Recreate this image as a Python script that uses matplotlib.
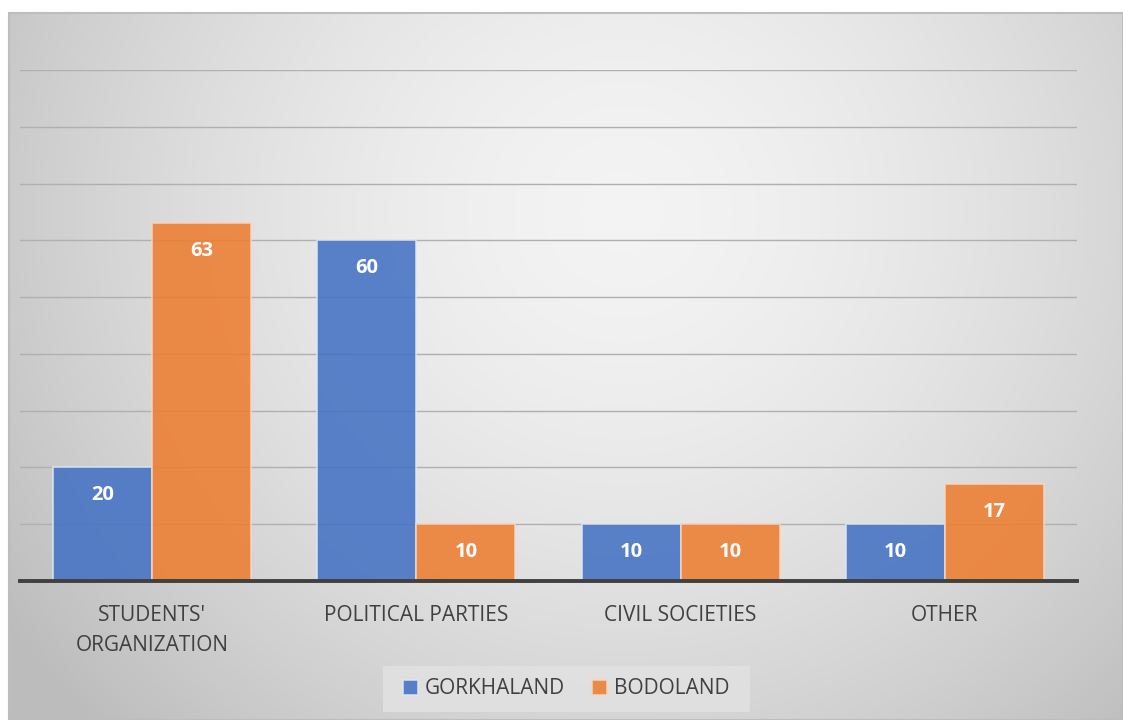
import numpy as np
import matplotlib
matplotlib.use("Agg")
import matplotlib.pyplot as plt
from matplotlib.patches import Rectangle

plt.rcParams['font.family'] = ['Open Sans', 'DejaVu Sans']

categories = ["STUDENTS'\nORGANIZATION", "POLITICAL PARTIES", "CIVIL SOCIETIES", "OTHER"]
series_names = ["GORKHALAND", "BODOLAND"]
gorkhaland = [20, 60, 10, 10]
bodoland = [63, 10, 10, 17]
y_max = 90
y_step = 10

blue = "#4472C4"
orange = "#ED7D31"
text_gray = "#404040"

W, H, DPI = 1123, 720, 100
fig = plt.figure(figsize=(W / DPI, H / DPI), dpi=DPI)
fig.patch.set_facecolor("white")

# Chart area with a soft radial gradient background
bg = fig.add_axes([9 / W, 0, (W - 9) / W, (H - 13) / H])
ny, nx = 300, 480
yy, xx = np.mgrid[0:ny, 0:nx]
cx, cy = nx * 0.55, ny * 0.28
r = np.sqrt(((xx - cx) / (nx * 0.62)) ** 2 + ((yy - cy) / (ny * 0.95)) ** 2)
shade = np.clip(0.955 - 0.19 * r ** 1.6, 0.74, 0.96)
bg.imshow(np.dstack([shade, shade, shade]), aspect="auto", extent=[0, 1, 0, 1],
          origin="upper", interpolation="bilinear")
bg.set_xlim(0, 1)
bg.set_ylim(0, 1)
bg.axis("off")
bg.add_patch(Rectangle((0, 0), 1, 1, transform=bg.transAxes, fill=False,
                       edgecolor="#bdbdbd", linewidth=1.5, clip_on=False))

# Plot area
ax = fig.add_axes([20 / W, (H - 581) / H, (1077 - 20) / W, (581 - 70) / H])
ax.set_facecolor("none")
x = np.arange(len(categories))
width = 0.375
bars1 = ax.bar(x - width / 2, gorkhaland, width, color=blue, alpha=0.88,
               edgecolor="#dfe6f3", linewidth=1.2, label=series_names[0], zorder=3)
bars2 = ax.bar(x + width / 2, bodoland, width, color=orange, alpha=0.88,
               edgecolor="#f6d6c0", linewidth=1.2, label=series_names[1], zorder=3)

for bars, vals in ((bars1, gorkhaland), (bars2, bodoland)):
    for b, v in zip(bars, vals):
        ax.annotate(f"{v}", (b.get_x() + b.get_width() / 2, v),
                    xytext=(0, -20), textcoords="offset points",
                    ha="center", va="center", color="white",
                    fontsize=14.5, fontweight="bold", zorder=5)

ax.set_xlim(-0.5, len(categories) - 0.5)
ax.set_ylim(0, y_max)
ax.set_yticks(np.arange(0, y_max + 1, y_step))
ax.yaxis.grid(True, color="#b0b0b0", linewidth=1.0, zorder=1)
ax.set_axisbelow(True)
ax.tick_params(axis="y", left=False, labelleft=False)
ax.tick_params(axis="x", length=0, pad=17, labelsize=15, labelcolor=text_gray)
ax.set_xticks(x)
ax.set_xticklabels(categories, linespacing=1.6)
for s in ("top", "right", "left"):
    ax.spines[s].set_visible(False)
ax.spines["bottom"].set_color("#404040")
ax.spines["bottom"].set_linewidth(2.8)
ax.spines["bottom"].set_zorder(4)

# Legend below the plot
leg_ax = fig.add_axes([383 / W, (H - 712) / H, (750 - 383) / W, 46 / H])
leg_ax.set_facecolor("#e1e1e1")
leg_ax.patch.set_alpha(0.9)
for s in leg_ax.spines.values():
    s.set_visible(False)
leg_ax.set_xticks([])
leg_ax.set_yticks([])
leg = leg_ax.legend(handles=[bars1, bars2], loc="center", ncol=2, frameon=False,
                    fontsize=15, labelcolor=text_gray, handlelength=0.7,
                    handleheight=0.7, handletextpad=0.35, columnspacing=1.3)

fig.savefig("out.png", dpi=DPI)
